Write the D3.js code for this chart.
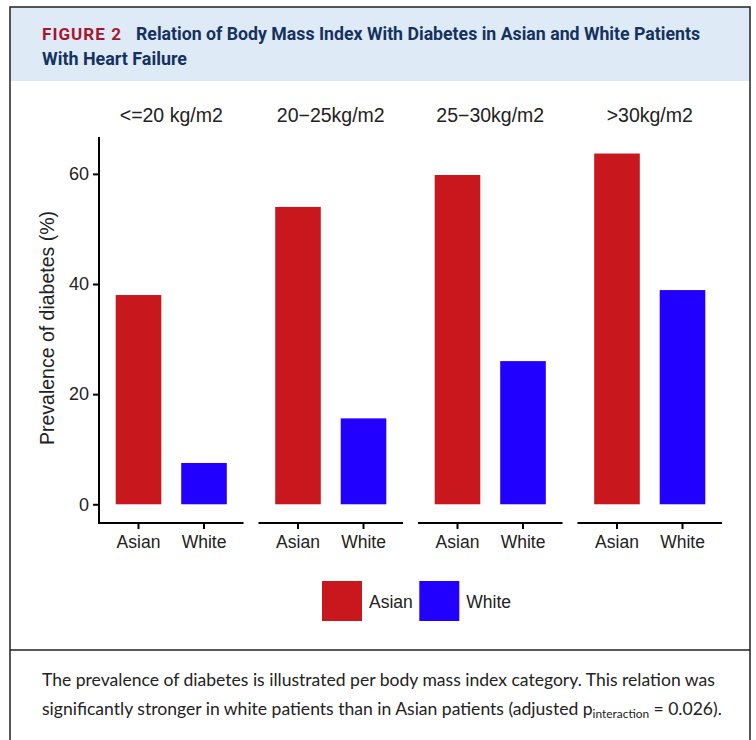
<!DOCTYPE html>
<html>
<head>
<meta charset="utf-8">
<script src="https://cdn.jsdelivr.net/npm/d3@7"></script>
<style>
  html, body { margin: 0; padding: 0; background: #fff; }
  svg { display: block; }
</style>
</head>
<body>
<svg id="fig" width="756" height="740"></svg>
<script>
// BMI categories (facets), groups within each facet, and prevalence values (%)
const categories = ["<=20 kg/m2", "20\u221225kg/m2", "25\u221230kg/m2", ">30kg/m2"];
const groups = ["Asian", "White"];
const asianValues = [38, 54, 59.8, 63.7];
const whiteValues = [7.5, 15.6, 26, 38.9];
const yTicks = [0, 20, 40, 60];

const colors = { Asian: "#c8171d", White: "#2200ff" };

const svg = d3.select("#fig");
const chartFont = "'Liberation Sans', Arial, sans-serif";

// ---- Figure frame and header band ----
svg.append("rect").attr("x", 10).attr("y", 7).attr("width", 740).attr("height", 74)
  .attr("fill", "#deeaf6");
svg.append("rect").attr("x", 10).attr("y", 7).attr("width", 740).attr("height", 740)
  .attr("fill", "none").attr("stroke", "#222").attr("stroke-width", 1.5);
svg.append("line").attr("x1", 10).attr("x2", 750).attr("y1", 650).attr("y2", 650)
  .attr("stroke", "#222").attr("stroke-width", 1.5);

const headFont = "'Liberation Sans Narrow', 'Roboto', sans-serif";
svg.append("text").attr("x", 42).attr("y", 40)
  .attr("font-family", headFont).attr("font-weight", "bold").attr("font-size", 16.5)
  .attr("letter-spacing", 1).attr("fill", "#a5172f")
  .attr("textLength", 80).attr("lengthAdjust", "spacingAndGlyphs")
  .text("FIGURE 2");
svg.append("text").attr("x", 136).attr("y", 40)
  .attr("font-family", headFont).attr("font-weight", "bold").attr("font-size", 17.5)
  .attr("fill", "#15325f")
  .attr("textLength", 564).attr("lengthAdjust", "spacingAndGlyphs")
  .text("Relation of Body Mass Index With Diabetes in Asian and White Patients");
svg.append("text").attr("x", 42).attr("y", 64.5)
  .attr("font-family", headFont).attr("font-weight", "bold").attr("font-size", 17.5)
  .attr("fill", "#15325f")
  .attr("textLength", 145).attr("lengthAdjust", "spacingAndGlyphs")
  .text("With Heart Failure");

// ---- Scales ----
const facet = d3.scaleBand().domain(categories).range([99, 722]).paddingInner(0.094).paddingOuter(0);
const x = d3.scaleBand().domain(groups).range([0, facet.bandwidth()]).paddingInner(0.304).paddingOuter(0.255);
const y = d3.scaleLinear().domain([-3.4, 66.7]).range([523, 137]);

const plot = svg.append("g").attr("font-family", chartFont);

// Y axis (left of the first facet)
const yAxis = plot.append("g").attr("transform", `translate(${facet.range()[0]},0)`)
  .call(d3.axisLeft(y).tickValues(yTicks).tickSize(6).tickPadding(4).tickFormat(d3.format("d")));
yAxis.select(".domain").remove();
yAxis.append("line").attr("x1", 0).attr("x2", 0).attr("y1", y.range()[1]).attr("y2", y.range()[0] + 1)
  .attr("stroke", "#000").attr("stroke-width", 2);
yAxis.selectAll(".tick line").attr("stroke", "#000").attr("stroke-width", 2);
yAxis.selectAll(".tick text").attr("font-size", 18).attr("fill", "#222").attr("font-family", chartFont);

plot.append("text")
  .attr("transform", `translate(54,${(y.range()[0] + y.range()[1]) / 2 - 2}) rotate(-90)`)
  .attr("text-anchor", "middle").attr("font-size", 19.5).attr("fill", "#222")
  .text("Prevalence of diabetes (%)");

// Facets
categories.forEach((cat, i) => {
  const g = plot.append("g").attr("transform", `translate(${facet(cat)},0)`);
  const rows = [
    { group: "Asian", value: asianValues[i] },
    { group: "White", value: whiteValues[i] }
  ];

  g.selectAll("rect.bar").data(rows).join("rect").attr("class", "bar")
    .attr("x", d => x(d.group)).attr("width", x.bandwidth())
    .attr("y", d => y(d.value)).attr("height", d => y(0) - y(d.value))
    .attr("fill", d => colors[d.group]);

  const xAxis = g.append("g").attr("transform", `translate(0,${y.range()[0]})`)
    .call(d3.axisBottom(x).tickSize(6).tickPadding(7));
  xAxis.select(".domain").remove();
  xAxis.append("line").attr("x1", 0).attr("x2", facet.bandwidth()).attr("y1", 0).attr("y2", 0)
    .attr("stroke", "#000").attr("stroke-width", 2);
  xAxis.selectAll(".tick line").attr("stroke", "#000").attr("stroke-width", 2);
  xAxis.selectAll(".tick text").attr("font-size", 17.5).attr("fill", "#222").attr("font-family", chartFont);

  g.append("text").attr("x", facet.bandwidth() / 2).attr("y", 121.5)
    .attr("text-anchor", "middle").attr("font-size", 19.5).attr("fill", "#222")
    .text(cat);
});

// Legend
const legend = plot.append("g");
const legendItems = [
  { group: "Asian", x: 322 },
  { group: "White", x: 419.3 }
];
legendItems.forEach(d => {
  legend.append("rect").attr("x", d.x).attr("y", 581).attr("width", 40).attr("height", 40)
    .attr("fill", colors[d.group]);
  legend.append("text").attr("x", d.x + 47).attr("y", 607.5)
    .attr("font-size", 17.5).attr("fill", "#222").text(d.group);
});

// ---- Caption ----
const capFont = "Lato, 'Open Sans', sans-serif";
const cap = svg.append("g").attr("font-family", capFont).attr("fill", "#222");
const line1 = cap.append("text").attr("x", 42).attr("y", 686).attr("font-size", 16.5)
  .text("The prevalence of diabetes is illustrated per body mass index category. This relation was");
// scale caption font so the first line spans its column
const w1 = line1.node().getComputedTextLength();
const capSize = 16.5 * 673 / w1;
line1.attr("font-size", capSize);

const line2 = cap.append("text").attr("x", 42).attr("y", 715).attr("font-size", capSize);
line2.append("tspan").text("significantly stronger in white patients than in Asian patients (adjusted p");
line2.append("tspan").attr("font-size", capSize * 0.68).attr("dy", 3).text("interaction");
line2.append("tspan").attr("dy", -3).text("\u2005=\u20050.026).");
</script>
</body>
</html>
